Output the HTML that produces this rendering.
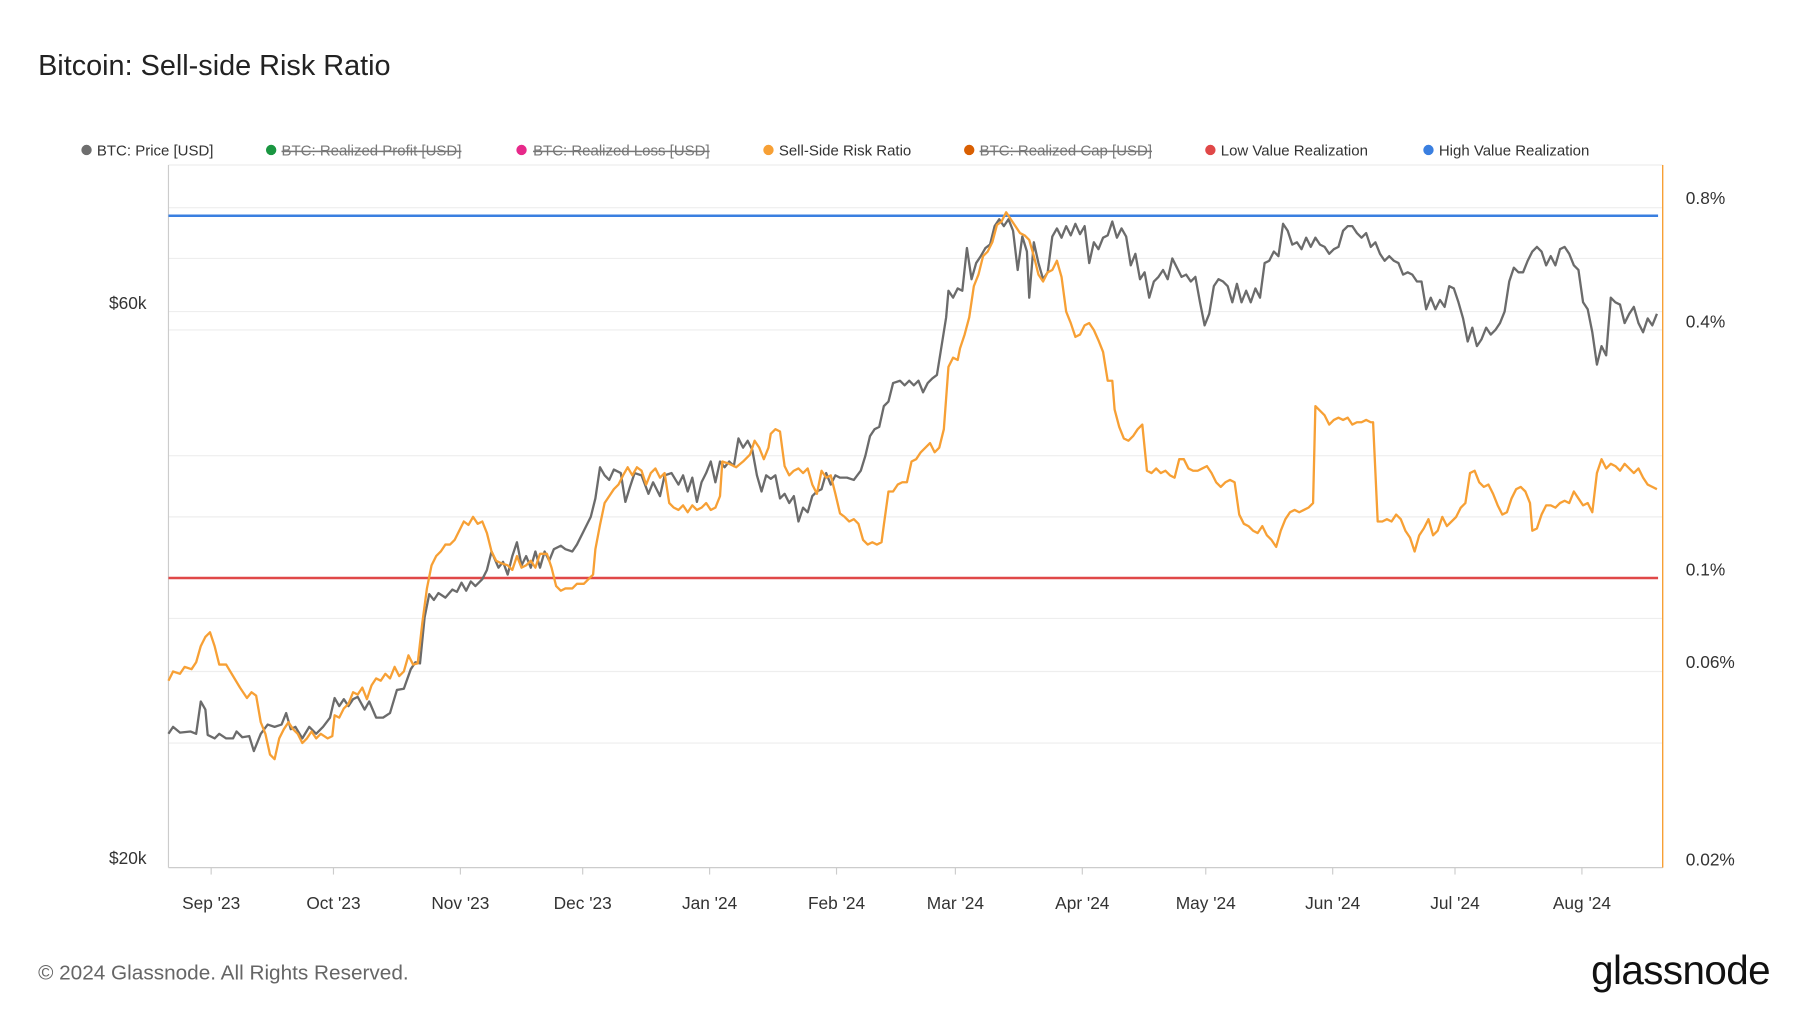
<!DOCTYPE html>
<html><head><meta charset="utf-8"><style>
html,body{margin:0;padding:0;background:#fff;width:1800px;height:1013px;overflow:hidden}
svg{display:block}
text{font-family:"Liberation Sans",sans-serif}
</style></head><body>
<svg width="1800" height="1013" viewBox="0 0 1560 878" preserveAspectRatio="none" xmlns="http://www.w3.org/2000/svg">
<rect width="1560" height="878" fill="#fff"/>
<text x="33" y="65" font-size="25" fill="#222">Bitcoin: Sell-side Risk Ratio</text>
<g font-size="13" fill="#333">
<circle cx="75" cy="130" r="4.5" fill="#6e6e6e"/><text x="84" y="135">BTC: Price [USD]</text>
<circle cx="235" cy="130" r="4.5" fill="#1a9641"/><text x="244" y="135" fill="#777" text-decoration="line-through">BTC: Realized Profit [USD]</text>
<circle cx="452" cy="130" r="4.5" fill="#e7298a"/><text x="462" y="135" fill="#777" text-decoration="line-through">BTC: Realized Loss [USD]</text>
<circle cx="666" cy="130" r="4.5" fill="#f7a035"/><text x="675" y="135">Sell-Side Risk Ratio</text>
<circle cx="840" cy="130" r="4.5" fill="#d95f02"/><text x="849" y="135" fill="#777" text-decoration="line-through">BTC: Realized Cap [USD]</text>
<circle cx="1049" cy="130" r="4.5" fill="#e04848"/><text x="1058" y="135">Low Value Realization</text>
<circle cx="1238" cy="130" r="4.5" fill="#3a7fe0"/><text x="1247" y="135">High Value Realization</text>
</g>
<g stroke="#eee" stroke-width="1">
<line x1="146" y1="143" x2="1441" y2="143"/>
<line x1="146" y1="180" x2="1441" y2="180"/>
<line x1="146" y1="224" x2="1441" y2="224"/>
<line x1="146" y1="270" x2="1441" y2="270"/>
<line x1="146" y1="286" x2="1441" y2="286"/>
<line x1="146" y1="395" x2="1441" y2="395"/>
<line x1="146" y1="448" x2="1441" y2="448"/>
<line x1="146" y1="536" x2="1441" y2="536"/>
<line x1="146" y1="582" x2="1441" y2="582"/>
<line x1="146" y1="644" x2="1441" y2="644"/>
</g>
<line x1="146" y1="143" x2="146" y2="752" stroke="#ccc"/>
<line x1="146" y1="752" x2="1441" y2="752" stroke="#ccc"/>
<line x1="1441" y1="143" x2="1441" y2="752" stroke="#f7a035" stroke-width="1.2"/>
<g stroke="#ccc">
<line x1="183" y1="752" x2="183" y2="758"/><line x1="289" y1="752" x2="289" y2="758"/><line x1="399" y1="752" x2="399" y2="758"/><line x1="505" y1="752" x2="505" y2="758"/><line x1="615" y1="752" x2="615" y2="758"/><line x1="725" y1="752" x2="725" y2="758"/><line x1="828" y1="752" x2="828" y2="758"/><line x1="938" y1="752" x2="938" y2="758"/><line x1="1045" y1="752" x2="1045" y2="758"/><line x1="1155" y1="752" x2="1155" y2="758"/><line x1="1261" y1="752" x2="1261" y2="758"/><line x1="1371" y1="752" x2="1371" y2="758"/>
</g>
<g font-size="15" fill="#333" text-anchor="middle">
<text x="183" y="788">Sep '23</text><text x="289" y="788">Oct '23</text><text x="399" y="788">Nov '23</text><text x="505" y="788">Dec '23</text><text x="615" y="788">Jan '24</text><text x="725" y="788">Feb '24</text><text x="828" y="788">Mar '24</text><text x="938" y="788">Apr '24</text><text x="1045" y="788">May '24</text><text x="1155" y="788">Jun '24</text><text x="1261" y="788">Jul '24</text><text x="1371" y="788">Aug '24</text>
</g>
<g font-size="15" fill="#333" text-anchor="end">
<text x="127" y="268">$60k</text><text x="127" y="749">$20k</text>
</g>
<g font-size="15" fill="#333">
<text x="1461" y="177">0.8%</text><text x="1461" y="284">0.4%</text><text x="1461" y="499">0.1%</text><text x="1461" y="579">0.06%</text><text x="1461" y="750">0.02%</text>
</g>
<line x1="146" y1="187" x2="1437" y2="187" stroke="#3a7fe0" stroke-width="2.2"/>
<line x1="146" y1="501" x2="1437" y2="501" stroke="#e04848" stroke-width="2.2"/>
<polyline fill="none" stroke="#6b6b6b" stroke-width="2" stroke-linejoin="round" points="146,636 150,630 156,635 165,634 170,636 174,608 178,615 180,637 186,640 190,636 196,640 202,640 205,634 210,639 216,638 220,651 226,636 232,628 238,630 244,628 248,618 252,632 256,630 262,640 268,630 274,636 280,630 286,622 290,605 294,612 298,606 302,612 306,606 310,604 316,615 320,608 326,622 332,622 338,618 344,598 350,597 356,580 360,574 364,575 368,535 372,515 376,520 380,514 386,518 392,511 396,513 400,505 404,512 408,504 412,508 418,502 422,494 426,478 432,492 436,487 440,498 444,482 448,470 452,490 456,482 460,492 464,478 468,492 472,478 476,486 480,476 486,473 490,476 496,478 500,472 506,460 512,448 516,432 520,405 524,412 528,416 532,407 538,410 542,435 546,422 550,410 556,412 562,428 566,418 572,430 576,412 582,410 588,420 592,412 596,426 600,414 604,435 608,418 612,410 616,400 620,418 624,400 628,405 632,400 636,404 640,380 644,388 648,382 652,390 656,412 660,426 664,412 668,415 672,412 676,432 680,428 684,436 688,430 692,452 696,440 700,444 704,430 708,426 712,424 716,410 720,420 724,412 728,414 734,414 740,416 746,408 750,395 754,378 758,372 762,370 766,352 770,348 774,332 780,330 784,334 788,330 792,334 796,330 800,340 804,332 808,328 812,325 816,300 820,275 822,252 826,258 830,250 834,252 838,215 842,242 846,228 850,222 854,215 858,212 862,196 866,190 870,196 874,190 878,200 882,234 886,205 890,218 892,258 896,210 900,228 904,242 908,236 912,205 916,198 920,206 924,196 928,204 932,194 936,203 940,196 944,228 948,210 952,216 956,206 960,204 964,192 968,206 972,198 976,205 980,230 984,220 988,242 992,236 996,258 1000,244 1004,240 1008,234 1012,242 1016,224 1020,232 1024,240 1028,238 1032,244 1036,240 1040,262 1044,282 1048,272 1052,248 1056,242 1060,244 1064,248 1068,262 1072,246 1076,262 1080,252 1084,262 1088,250 1092,258 1096,228 1100,226 1104,218 1108,222 1112,194 1116,200 1120,212 1124,210 1128,216 1132,206 1136,214 1140,206 1144,212 1148,214 1152,220 1156,216 1160,214 1164,200 1168,196 1172,196 1176,202 1180,206 1184,202 1188,214 1192,210 1196,220 1200,226 1204,222 1208,226 1212,228 1216,238 1220,236 1224,238 1228,244 1232,244 1236,268 1240,258 1244,268 1248,260 1252,266 1256,248 1260,250 1264,262 1268,276 1272,296 1276,284 1280,300 1284,294 1288,284 1292,290 1296,286 1300,280 1304,270 1308,244 1312,232 1316,236 1320,236 1324,226 1328,218 1332,214 1336,218 1340,230 1344,222 1348,230 1352,216 1356,214 1360,220 1364,230 1368,234 1372,262 1376,268 1380,288 1384,316 1388,300 1392,308 1396,258 1400,262 1404,264 1408,280 1412,272 1416,266 1420,280 1424,288 1428,276 1432,282 1436,272"/>
<polyline fill="none" stroke="#f7a035" stroke-width="2" stroke-linejoin="round" points="146,590 150,582 156,584 160,578 166,580 170,574 174,560 178,552 182,548 186,560 190,576 196,576 202,586 208,596 214,605 218,600 222,603 226,626 230,636 234,654 238,658 242,640 246,632 250,626 254,632 258,636 262,644 266,640 270,634 274,640 278,636 284,640 288,638 290,620 294,622 298,614 302,610 306,600 310,602 314,596 318,606 322,594 326,588 330,590 334,584 338,588 342,578 346,586 350,582 354,568 358,576 362,575 366,540 370,510 374,490 378,482 382,478 386,472 390,472 394,468 398,460 402,452 406,455 410,448 414,454 418,452 422,462 426,478 430,486 434,488 440,490 444,494 448,482 452,492 456,490 460,486 464,492 468,480 474,480 478,492 482,508 486,512 490,510 496,510 500,506 506,506 510,502 514,498 516,476 520,455 524,436 528,430 532,424 536,420 540,412 544,405 548,412 552,405 556,408 560,420 564,410 568,406 572,414 576,410 580,436 584,440 588,442 592,438 596,444 600,438 604,442 608,440 612,436 616,442 620,440 624,430 626,400 632,402 638,405 644,400 650,394 654,382 658,388 662,398 666,388 668,376 672,372 676,374 680,404 684,412 688,408 692,406 696,410 700,406 704,420 708,428 712,408 716,414 720,412 724,428 728,445 732,448 736,452 740,450 744,454 748,468 752,472 756,470 760,472 764,470 766,455 770,426 774,426 778,420 782,418 786,418 790,400 794,398 798,392 802,388 806,384 810,392 814,388 818,372 820,345 822,318 826,310 830,312 832,302 836,290 840,275 844,248 848,238 852,222 856,218 860,210 864,195 868,192 872,184 876,190 880,196 884,202 888,204 892,208 896,222 900,238 904,244 908,236 912,234 916,226 920,240 924,270 928,280 932,292 936,290 940,282 944,280 948,286 952,295 956,305 960,330 964,330 966,355 970,370 974,380 978,382 982,378 986,372 990,368 994,408 998,410 1002,406 1006,410 1010,408 1014,412 1018,414 1022,398 1026,398 1030,406 1034,408 1038,408 1042,406 1046,404 1050,410 1054,418 1058,422 1062,418 1066,416 1070,418 1074,446 1078,454 1082,456 1086,460 1090,462 1094,456 1098,464 1102,468 1106,474 1110,460 1114,450 1118,444 1122,442 1126,444 1130,442 1134,440 1138,436 1140,352 1144,356 1148,360 1152,368 1156,364 1160,362 1164,364 1168,362 1172,368 1176,366 1180,366 1184,364 1188,366 1190,366 1194,452 1198,452 1202,450 1206,452 1210,446 1214,450 1218,460 1222,466 1226,478 1230,464 1234,458 1238,450 1242,464 1246,460 1250,448 1254,456 1258,452 1262,448 1266,440 1270,436 1274,410 1278,408 1282,418 1286,422 1290,420 1294,428 1298,438 1302,446 1306,444 1310,432 1314,424 1318,422 1322,426 1326,436 1328,460 1332,458 1336,446 1340,438 1344,438 1348,440 1352,436 1356,434 1360,436 1364,426 1368,432 1372,438 1376,436 1380,444 1384,410 1388,398 1392,406 1396,402 1400,404 1404,408 1408,402 1412,406 1416,410 1420,406 1424,414 1428,420 1432,422 1436,424"/>
<text x="33" y="849" font-size="18" fill="#666">© 2024 Glassnode. All Rights Reserved.</text>
<text x="1534" y="853" font-size="35" fill="#111" text-anchor="end" letter-spacing="-0.5">glassnode</text>
</svg>
</body></html>
